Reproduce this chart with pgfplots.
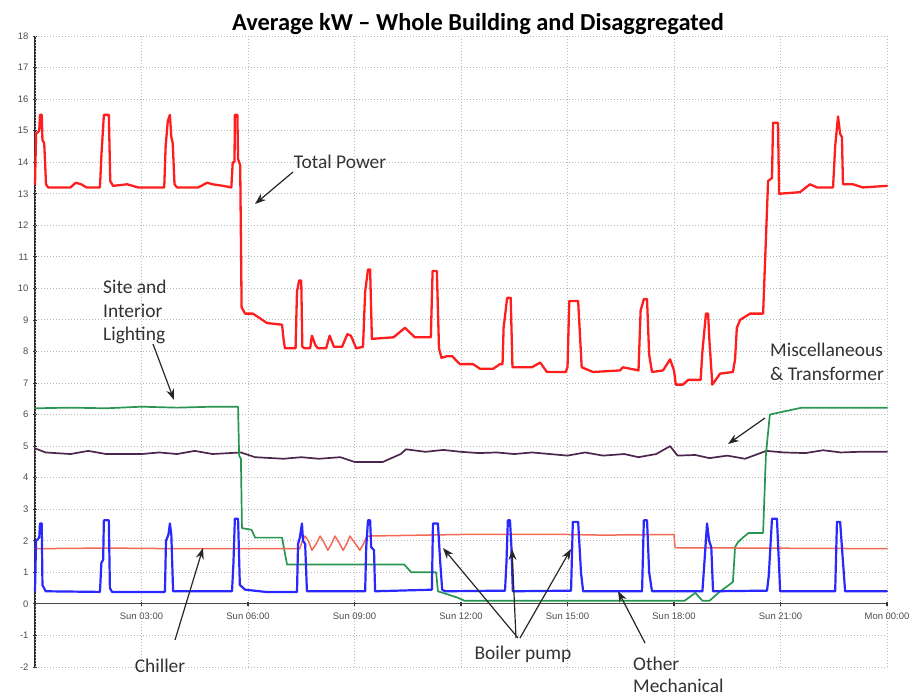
\documentclass[border=0pt]{standalone}
\usepackage{pgfplots}
\pgfplotsset{compat=1.18}
\usepackage{fontspec}
\setmainfont{Carlito}
\setsansfont{Liberation Sans}
\usetikzlibrary{arrows.meta}
\definecolor{totc}{RGB}{255,30,30}
\definecolor{chilc}{RGB}{242,105,85}
\definecolor{mechc}{RGB}{40,40,255}
\definecolor{lightc}{RGB}{40,150,80}
\definecolor{miscc}{RGB}{75,40,75}
\begin{document}
\begin{tikzpicture}
\path[use as bounding box] (0,0) rectangle (922bp,698bp);
\begin{axis}[at={(35bp,31bp)}, anchor=south west, scale only axis,
  width=852bp, height=631bp,
  xmin=0, xmax=24, ymin=-2, ymax=18,
  axis x line=middle, axis y line=left,
  axis line style={-},
  x axis line style={line width=1.2bp, gray!55!black},
  y axis line style={line width=1.8bp, gray!35!black},
  hide obscured x ticks=false, hide obscured y ticks=false,
  xtick={3,6,...,24},
  xticklabels={Sun 03:00,Sun 06:00,Sun 09:00,Sun 12:00,Sun 15:00,Sun 18:00,Sun 21:00,Mon 00:00},
  ytick={-2,-1,...,18},
  minor y tick num=4,
  extra x ticks={0}, extra x tick labels={},
  extra x tick style={grid=major},
  tick style={gray!40!black, line width=0.8bp},
  major tick length=4bp, minor tick length=2.5bp,
  tick align=center,
  xtick style={line width=1.4bp},
  /pgf/number format/assume math mode=true,
  ticklabel style={font=\sffamily\fontsize{9.5}{11}\selectfont, text=gray!60!black},
  xticklabel style={yshift=-3bp},
  yticklabel style={xshift=-1bp},
  grid=major,
  major grid style={gray!55, dash pattern=on 1.2bp off 1.8bp, line width=0.9bp},
  clip=false,
  every axis plot/.append style={line join=round, line cap=round},
]
% Misc & Transformer
\addplot[miscc, line width=1.7bp] coordinates {
(0,4.93)(0.3,4.8)(1,4.75)(1.5,4.85)(2,4.75)(3,4.75)(3.5,4.8)(4,4.75)(4.5,4.85)(5,4.75)(5.8,4.8)(6.2,4.65)(7,4.6)(7.5,4.65)(8.0,4.6)(8.6,4.65)(9,4.5)(9.8,4.5)(10.3,4.75)(10.45,4.9)(11,4.82)(11.5,4.88)(12,4.82)(12.5,4.78)(13,4.8)(13.5,4.75)(14,4.8)(14.5,4.75)(15.0,4.7)(15.5,4.8)(16,4.7)(16.6,4.75)(17.0,4.65)(17.5,4.75)(17.89,5.0)(18.1,4.7)(18.6,4.72)(19.0,4.62)(19.5,4.7)(20.0,4.6)(20.6,4.85)(21.1,4.8)(21.7,4.78)(22.2,4.87)(22.7,4.8)(23.2,4.82)(24,4.82)
};
% Lighting
\addplot[lightc, line width=1.7bp] coordinates {
(0,6.2)(1,6.22)(2,6.2)(3,6.25)(4,6.22)(5,6.25)(5.72,6.25)(5.75,4.7)(5.8,4.6)(5.83,2.4)(6.1,2.35)(6.2,2.1)(6.96,2.1)(7.04,1.6)(7.1,1.25)(9,1.25)(10.4,1.25)(10.6,1.0)(11.3,1.0)(11.35,0.4)(11.9,0.2)(12.1,0.1)(18.3,0.1)(18.6,0.35)(18.8,0.1)(19.0,0.1)(19.3,0.4)(19.55,0.6)(19.66,0.7)(19.72,1.8)(19.8,1.95)(19.94,2.1)(20.1,2.25)(20.51,2.25)(20.59,4.75)(20.7,6.0)(21.1,6.1)(21.6,6.22)(24,6.22)
};
% Chiller
\addplot[chilc, line width=1.5bp] coordinates {
(0,1.75)(2,1.77)(4,1.75)(7.46,1.75)(7.53,2.0)(7.61,2.15)(7.7,2.0)(7.8,1.7)(7.92,1.9)(8.03,2.15)(8.14,1.95)(8.25,1.7)(8.35,1.9)(8.45,2.15)(8.56,1.95)(8.68,1.7)(8.78,1.9)(8.87,2.15)(9.0,1.95)(9.15,1.7)(9.25,1.9)(9.35,2.15)(12,2.2)(15,2.2)(16,2.18)(18.0,2.2)(18.03,1.78)(24,1.75)
};
% Other Mechanical
\addplot[mechc, line width=2.2bp] coordinates {
(0,0.4)(0.03,2.0)(0.12,2.1)(0.14,2.55)(0.19,2.55)(0.21,0.6)(0.3,0.4)(1.83,0.38)(1.87,1.3)(1.92,1.4)(1.94,2.65)(2.08,2.65)(2.11,0.5)(2.17,0.38)(3.66,0.38)(3.69,2.0)(3.76,2.2)(3.80,2.55)(3.84,2.2)(3.89,0.4)(5.55,0.4)(5.59,1.3)(5.63,2.7)(5.72,2.7)(5.77,0.6)(5.92,0.45)(6.5,0.38)(7.38,0.38)(7.41,1.9)(7.46,2.1)(7.52,2.55)(7.55,2.0)(7.61,1.9)(7.66,0.4)(9.3,0.4)(9.33,1.8)(9.38,2.65)(9.44,2.65)(9.47,1.8)(9.55,1.7)(9.58,0.4)(11.18,0.45)(11.21,2.55)(11.35,2.55)(11.41,1.4)(11.47,0.45)(11.55,0.4)(13.24,0.42)(13.28,1.3)(13.32,2.65)(13.38,2.65)(13.42,1.8)(13.46,0.4)(15.1,0.42)(15.15,2.6)(15.3,2.6)(15.38,1.0)(15.44,0.4)(17.1,0.4)(17.15,2.65)(17.24,2.65)(17.3,1.0)(17.38,0.4)(18.8,0.4)(18.85,1.2)(18.93,2.55)(18.99,2.0)(19.05,1.8)(19.1,0.4)(20.62,0.42)(20.67,0.9)(20.76,2.7)(20.9,2.7)(20.99,0.4)(22.54,0.4)(22.59,2.6)(22.68,2.6)(22.73,1.8)(22.82,0.4)(24,0.4)
};
% Total Power
\addplot[totc, line width=2.3bp] coordinates {
(0,13.3)(0.03,14.9)(0.12,15.0)(0.14,15.5)(0.19,15.5)(0.21,14.7)(0.26,14.6)(0.31,13.3)(0.37,13.2)(1.0,13.2)(1.15,13.35)(1.3,13.3)(1.45,13.2)(1.83,13.2)(1.87,14.2)(1.94,15.5)(2.08,15.5)(2.12,13.4)(2.2,13.25)(2.6,13.3)(2.9,13.2)(3.64,13.2)(3.68,14.5)(3.74,15.3)(3.80,15.5)(3.84,14.8)(3.88,14.6)(3.93,13.3)(4.0,13.2)(4.6,13.2)(4.85,13.35)(5.0,13.3)(5.3,13.25)(5.53,13.2)(5.57,14.0)(5.62,14.0)(5.63,15.5)(5.70,15.5)(5.72,14.1)(5.78,13.9)(5.82,9.4)(5.92,9.2)(6.14,9.2)(6.54,8.9)(6.96,8.85)(7.0,8.4)(7.04,8.1)(7.34,8.1)(7.38,9.9)(7.44,10.25)(7.5,10.25)(7.53,8.15)(7.6,8.1)(7.75,8.1)(7.8,8.5)(7.9,8.2)(7.97,8.1)(8.2,8.1)(8.3,8.5)(8.42,8.15)(8.65,8.15)(8.8,8.55)(8.9,8.5)(9.05,8.1)(9.24,8.15)(9.3,9.9)(9.38,10.6)(9.44,10.6)(9.49,8.4)(10.1,8.45)(10.42,8.75)(10.7,8.45)(11.15,8.45)(11.2,10.55)(11.32,10.55)(11.38,8.1)(11.45,7.8)(11.6,7.85)(11.75,7.85)(11.97,7.6)(12.34,7.6)(12.54,7.45)(12.9,7.45)(13.1,7.6)(13.17,7.6)(13.2,8.75)(13.3,9.7)(13.4,9.7)(13.45,7.5)(14.0,7.5)(14.23,7.65)(14.42,7.35)(14.95,7.35)(15.0,7.5)(15.05,9.6)(15.3,9.6)(15.4,7.5)(15.72,7.35)(16.48,7.4)(16.56,7.5)(17.0,7.4)(17.06,9.3)(17.15,9.66)(17.24,9.66)(17.3,7.9)(17.38,7.35)(17.69,7.4)(17.89,7.75)(18.0,7.4)(18.05,6.95)(18.25,6.95)(18.4,7.1)(18.75,7.1)(18.8,8.0)(18.9,9.2)(18.96,9.2)(19.0,8.3)(19.08,6.95)(19.3,7.3)(19.66,7.35)(19.72,7.75)(19.77,8.75)(19.86,9.0)(20.14,9.2)(20.51,9.2)(20.59,11.6)(20.65,13.4)(20.76,13.5)(20.79,15.25)(20.93,15.25)(20.96,13.0)(21.55,13.05)(21.83,13.3)(22.03,13.2)(22.48,13.2)(22.54,14.5)(22.62,15.45)(22.68,14.9)(22.73,14.8)(22.76,13.3)(23.04,13.3)(23.32,13.2)(24.0,13.25)
};
\end{axis}
\begin{scope}[x=1bp,y=-1bp,shift={(0,698bp)}]
\node[font=\bfseries\fontsize{24.5}{28}\selectfont, text=black] at (478,24) {Average kW – Whole Building and Disaggregated};
\tikzset{ann/.style={font=\fontsize{19.5}{22}\selectfont, text=black!80, inner sep=0pt},
  arr/.style={-{Stealth[length=11bp,width=8bp]}, line width=1.2bp, black!85}}
\node[ann] at (340,162) {Total Power};
\draw[arr] (293,172) -- (255,204);
\node[ann, anchor=west] at (103,287) {Site and};
\node[ann, anchor=west] at (103,311) {Interior};
\node[ann, anchor=west] at (103,335) {Lighting};
\draw[arr] (153,344) -- (174,400);
\node[ann, anchor=west] at (770,350) {Miscellaneous};
\node[ann, anchor=west] at (770,374) {\& Transformer};
\draw[arr] (765,418) -- (728,444);
\node[ann] at (160,666) {Chiller};
\draw[arr] (175,640) -- (203,548);
\node[ann] at (523,654) {Boiler pump};
\draw[arr] (518,638) -- (443,548);
\draw[arr] (516,638) -- (512,549);
\draw[arr] (520,638) -- (571,549);
\node[ann, anchor=west] at (633,664) {Other};
\node[ann, anchor=west] at (633,686) {Mechanical};
\draw[arr] (645,643) -- (618,591);
\end{scope}
\end{tikzpicture}
\end{document}
